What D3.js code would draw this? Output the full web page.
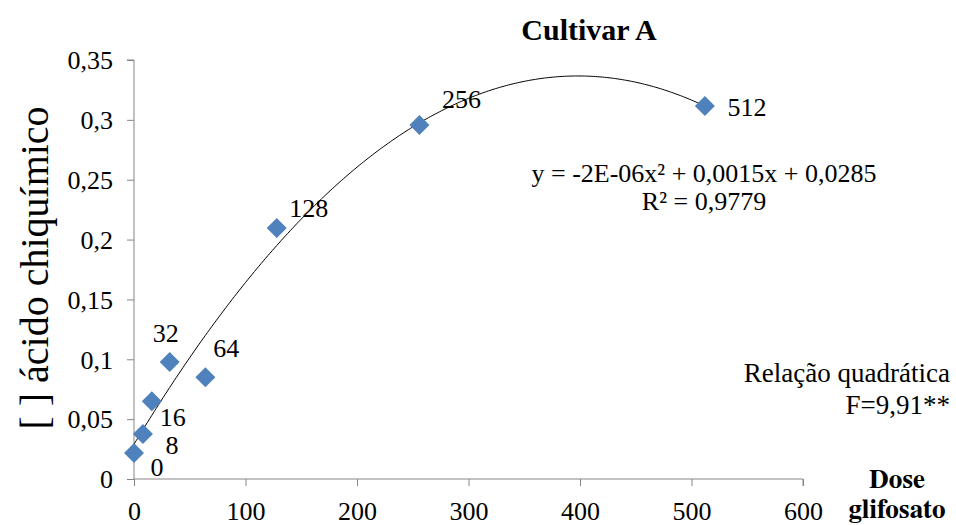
<!DOCTYPE html>
<html>
<head>
<meta charset="utf-8">
<script src="https://cdn.jsdelivr.net/npm/d3@7"></script>
<style>
  html, body { margin: 0; padding: 0; background: #fff; }
  svg { display: block; }
</style>
</head>
<body>
<svg id="chart" width="956" height="525"></svg>
<script>
// Data
const doses = [0, 8, 16, 32, 64, 128, 256, 512];
const shikimic = [0.0217, 0.0376, 0.065, 0.0977, 0.085, 0.2096, 0.2956, 0.3115];
const pointLabels = ["0", "8", "16", "32", "64", "128", "256", "512"];
const xTicks = [0, 100, 200, 300, 400, 500, 600];
const yTicks = [0, 0.05, 0.1, 0.15, 0.2, 0.25, 0.3, 0.35];
const yTickLabels = ["0", "0,05", "0,1", "0,15", "0,2", "0,25", "0,3", "0,35"];
const title = "Cultivar A";
const yTitle = "[ ] ácido chiquímico";
const xTitle = ["Dose", "glifosato"];
const equationText = ["y = -2E-06x² + 0,0015x + 0,0285", "R² = 0,9779"];
const noteText = ["Relação quadrática", "F=9,91**"];
// label offsets (dx, dy) of label centre relative to its point, layout only
const labelOffsets = [[23, 14], [29, 11], [21, 16], [-4, -29], [21, -29], [32, -20], [42, -26], [42, 1]];

const svg = d3.select("#chart");
const x = d3.scaleLinear().domain([0, 600]).range([134, 803]);
const y = d3.scaleLinear().domain([0, 0.35]).range([479, 60]);
const axisColor = "#868686";

function txt(sel, f) { return sel.attr("font-family", f).attr("fill", "#000"); }

// Y axis
const yAxis = d3.axisLeft(y).tickValues(yTicks).tickSize(7)
  .tickFormat((d, i) => yTickLabels[i]);
const gy = svg.append("g").attr("transform", "translate(134,0)").call(yAxis)
  .attr("font-family", "serif").attr("font-size", 26);
gy.select(".domain").attr("stroke", axisColor).attr("d", `M-7,${y(0.35)}H0V${y(0)}`);
gy.selectAll(".tick line").attr("stroke", axisColor);
txt(gy.selectAll(".tick text"), "serif").attr("x", -21).attr("dy", "0.34em");

// X axis
const xAxis = d3.axisBottom(x).tickValues(xTicks).tickSize(7);
const gx = svg.append("g").attr("transform", "translate(0,479)").call(xAxis)
  .attr("font-family", "Times New Roman").attr("font-size", 26);
gx.select(".domain").attr("stroke", axisColor).attr("d", `M${x(0)},0H${x(600)}V7`);
gx.selectAll(".tick line").attr("stroke", axisColor);
txt(gx.selectAll(".tick text"), "Times New Roman").attr("y", 41).attr("dy", 0);

// Quadratic least-squares fit from the data (Excel trend line)
function quadFit(xs, ys) {
  let n = xs.length, S = [0,0,0,0,0], T = [0,0,0];
  for (let i = 0; i < n; i++) {
    const xi = xs[i], yi = ys[i];
    for (let k = 0; k <= 4; k++) S[k] += Math.pow(xi, k);
    for (let k = 0; k <= 2; k++) T[k] += yi * Math.pow(xi, k);
  }
  const M = [[S[0], S[1], S[2], T[0]], [S[1], S[2], S[3], T[1]], [S[2], S[3], S[4], T[2]]];
  for (let c = 0; c < 3; c++) {
    for (let r = c + 1; r < 3; r++) {
      const f = M[r][c] / M[c][c];
      for (let k = c; k < 4; k++) M[r][k] -= f * M[c][k];
    }
  }
  const sol = [0,0,0];
  for (let r = 2; r >= 0; r--) {
    let s = M[r][3];
    for (let k = r + 1; k < 3; k++) s -= M[r][k] * sol[k];
    sol[r] = s / M[r][r];
  }
  return sol; // c, b, a
}
const [c0, b1, a2] = quadFit(doses, shikimic);
const xs = d3.range(0, 512.01, 2);
const line = d3.line().x(d => x(d)).y(d => y(c0 + b1 * d + a2 * d * d));
svg.append("path").datum(xs).attr("d", line).attr("fill", "none")
  .attr("stroke", "#000").attr("stroke-width", 1);

// Markers
const diamond = d3.symbol().type(d3.symbolSquare).size(200);
svg.selectAll(".pt").data(doses).enter().append("path")
  .attr("d", diamond)
  .attr("transform", (d, i) => `translate(${x(d)},${y(shikimic[i])}) rotate(45)`)
  .attr("fill", "#4F81BD");

// Point labels
txt(svg.selectAll(".lbl").data(doses).enter().append("text"), "Tinos")
  .attr("x", (d, i) => x(d) + labelOffsets[i][0])
  .attr("y", (d, i) => y(shikimic[i]) + labelOffsets[i][1])
  .attr("dy", "0.34em")
  .attr("text-anchor", "middle")
  .attr("font-size", 26).text((d, i) => pointLabels[i]);

// Title
txt(svg.append("text"), "Liberation Serif").attr("x", 589).attr("y", 40).attr("text-anchor", "middle")
  .attr("font-size", 30).attr("font-weight", "bold").text(title);

// Y title
txt(svg.append("text"), "serif").attr("transform", "translate(48,268) rotate(-90)")
  .attr("text-anchor", "middle").attr("font-size", 40).text(yTitle);

// X title
txt(svg.append("text"), "FreeSerif").attr("x", 897).attr("y", 488).attr("text-anchor", "middle")
  .attr("font-size", 27).attr("font-weight", "bold").text(xTitle[0]);
txt(svg.append("text"), "FreeSerif").attr("x", 897).attr("y", 518).attr("text-anchor", "middle")
  .attr("font-size", 27).attr("font-weight", "bold").text(xTitle[1]);

// Equation
txt(svg.append("text"), "Liberation Serif").attr("x", 704).attr("y", 182).attr("text-anchor", "middle")
  .attr("font-size", 26).text(equationText[0]);
txt(svg.append("text"), "Liberation Serif").attr("x", 704).attr("y", 210).attr("text-anchor", "middle")
  .attr("font-size", 26).text(equationText[1]);

// Note
txt(svg.append("text"), "Nimbus Roman").attr("x", 950).attr("y", 382).attr("text-anchor", "end")
  .attr("font-size", 27).text(noteText[0]);
txt(svg.append("text"), "Georgia").attr("x", 950).attr("y", 414).attr("text-anchor", "end")
  .attr("font-size", 27).text(noteText[1]);
</script>
</body>
</html>
